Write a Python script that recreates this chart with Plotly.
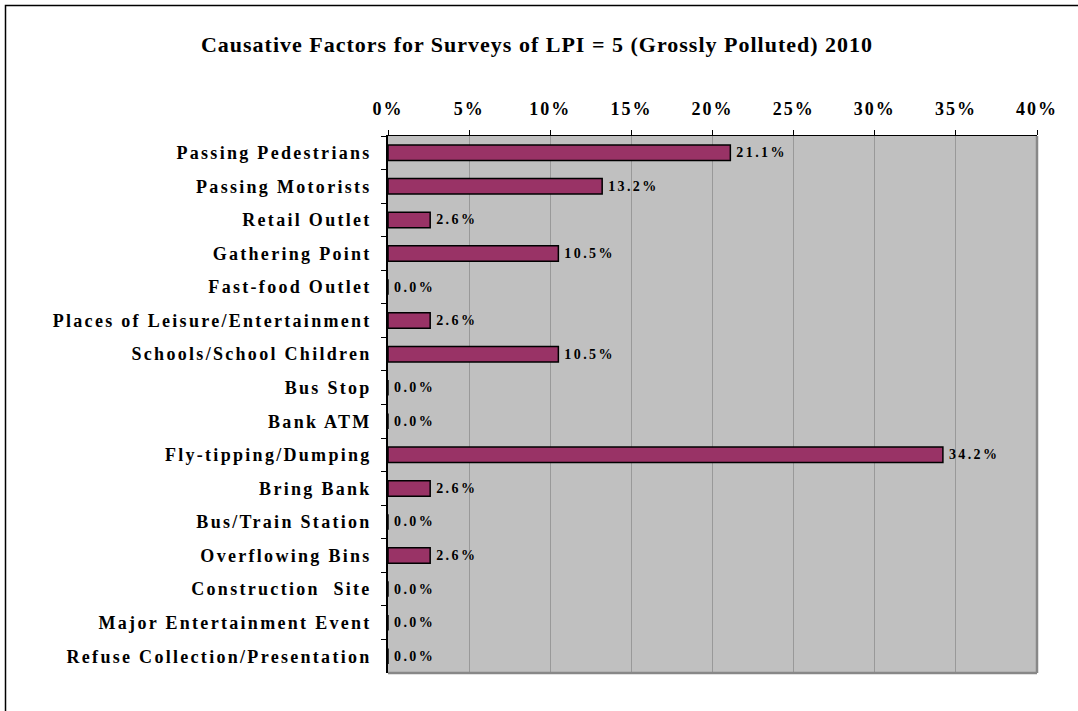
import plotly.graph_objects as go

categories = [
    "Passing Pedestrians", "Passing Motorists", "Retail Outlet", "Gathering Point",
    "Fast-food Outlet", "Places of Leisure/Entertainment", "Schools/School Children",
    "Bus Stop", "Bank ATM", "Fly-tipping/Dumping", "Bring Bank", "Bus/Train Station",
    "Overflowing Bins", "Construction  Site", "Major Entertainment Event",
    "Refuse Collection/Presentation",
]
values = [0.211, 0.132, 0.026, 0.105, 0.0, 0.026, 0.105, 0.0, 0.0, 0.342,
          0.026, 0.0, 0.026, 0.0, 0.0, 0.0]
title = "Causative Factors for Surveys of LPI = 5 (Grossly Polluted) 2010"

W, H = 1078, 711
L, R, T, B = 388, 41, 136, 38
pw, ph = W - L - R, H - T - B

serif = "Liberation Serif, Times New Roman, serif"

fig = go.Figure(go.Bar(
    x=values, y=categories, orientation="h",
    marker=dict(color="#993366", line=dict(color="black", width=1.5)),
    text=[f"{v*100:.1f}%" for v in values], textposition="outside",
    textfont=dict(family=serif, size=14, color="black", weight="bold"),
    cliponaxis=False, width=0.46,
))

fig.update_layout(
    width=W, height=H,
    margin=dict(l=L, r=R, t=T, b=B, autoexpand=False),
    paper_bgcolor="white", plot_bgcolor="#C0C0C0",
    showlegend=False,
    title=dict(text=title, x=(537 - L) / pw, xref="paper", xanchor="center",
               y=1 - 44 / H, yanchor="middle", yref="container",
               font=dict(family=serif, size=22, color="black", weight="bold")),
    xaxis=dict(side="top", range=[0, 0.40], dtick=0.05, tickformat=".0%",
               showgrid=True, gridcolor="#999999", gridwidth=1,
               ticks="outside", ticklen=5, tickcolor="black",
               showline=True, linecolor="black", linewidth=1,
               tickfont=dict(family=serif, size=18, color="black", weight="bold"),
               ticklabelstandoff=8, zeroline=False, fixedrange=True),
    yaxis=dict(autorange="reversed", categoryorder="array", categoryarray=categories,
               ticks="outside", ticklen=5, tickcolor="black", tickson="boundaries",
               showline=True, linecolor="black", linewidth=1.5,
               tickfont=dict(family=serif, size=18, color="black", weight="bold"),
               ticklabelstandoff=11, showgrid=False, fixedrange=True),
    shapes=[
        dict(type="line", xref="paper", yref="paper", x0=1, x1=1, y0=0, y1=1,
             line=dict(color="#888888", width=2.5)),
        dict(type="line", xref="paper", yref="paper", x0=0, x1=1, y0=0, y1=0,
             line=dict(color="#888888", width=2.5)),
        dict(type="rect", xref="paper", yref="paper",
             x0=(5.5 - L) / pw, x1=(W + 5 - L) / pw,
             y0=(H - B - (H + 5)) / ph, y1=(H - B - 5.5) / ph,
             line=dict(color="black", width=1.5), fillcolor="rgba(0,0,0,0)", layer="below"),
    ],
)

post = """
document.body.style.margin = '0';
var gd = document.getElementById('{plot_id}');
function spacing(sel, px) {
  gd.querySelectorAll(sel).forEach(function (t) { t.style.letterSpacing = px; });
}
spacing('.ytick text', '2.3px');
spacing('.xtick text', '2px');
spacing('.gtitle', '1px');
gd.querySelectorAll('.bartext').forEach(function (t) {
  var b0 = t.getBBox();
  t.style.letterSpacing = '2.4px';
  var b1 = t.getBBox();
  var dx = b0.x - b1.x + 3;
  var tr = t.getAttribute('transform') || '';
  t.setAttribute('transform', 'translate(' + dx + ',0) ' + tr);
});
"""

fig.write_html("out.html", post_script=post, config={"displayModeBar": False})
